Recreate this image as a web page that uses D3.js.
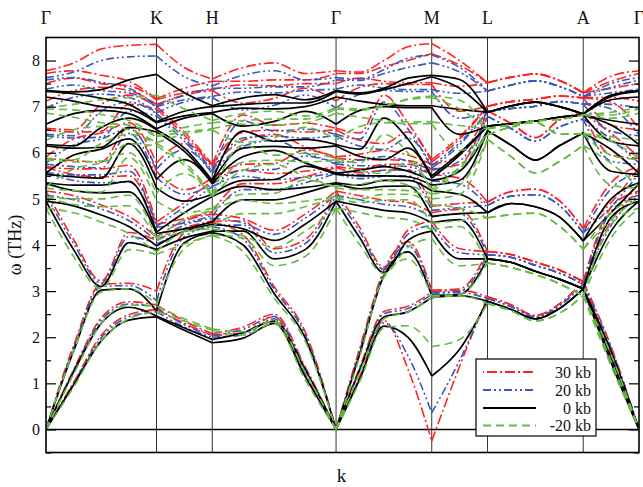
<!DOCTYPE html>
<html>
<head>
<meta charset="utf-8">
<script src="https://cdn.jsdelivr.net/npm/d3@7"></script>
<style>
  body { margin: 0; background: #fff; }
  svg text { font-family: "Liberation Serif", "Times New Roman", serif !important; fill: #111; }
</style>
</head>
<body>
<svg id="chart" width="643" height="487"></svg>
<script>
// High-symmetry path of the hexagonal Brillouin zone
const kLabels = ["Γ", "K", "H", "Γ", "M", "L", "A", "Γ"];
const kTicks = [0, 1.1547, 1.7377, 3.0312, 4.0312, 4.6142, 5.6142, 6.1972];
// k positions where the phonon frequencies are tabulated
const kSamples = [0, 0.2887, 0.5774, 0.8660, 1.1547, 1.4462, 1.7377, 2.0611, 2.3845, 2.7078,
  3.0312, 3.2812, 3.5312, 3.7812, 4.0312, 4.3227, 4.6142, 4.8642, 5.1142, 5.3642, 5.6142, 5.9057, 6.1972];
const yTickValues = [0, 1, 2, 3, 4, 5, 6, 7, 8];
const seriesNames = ["30 kb", "20 kb", "0 kb", "-20 kb"];

// Frequencies (THz): one row per k sample, 15 branches per row
const omega30kb = [
  [0,0,0,5.17,5.17,5.68,5.70,5.88,5.91,6.50,6.53,7.12,7.50,7.72,7.78],
  [1.02,1.30,1.82,4.12,5.07,5.53,5.65,5.83,6.30,6.45,6.50,7.35,7.62,7.78,7.95],
  [2.04,2.42,3.15,3.22,4.87,5.48,5.65,5.80,6.43,6.47,7.05,7.42,7.50,7.68,8.25],
  [2.49,2.77,3.17,4.27,4.62,5.50,5.73,6.55,6.65,7.05,7.25,7.35,7.45,7.55,8.33],
  [2.60,2.70,3.00,4.10,4.18,4.45,4.50,5.60,5.78,6.95,7.00,7.05,7.15,7.17,8.35],
  [2.30,2.35,4.27,4.37,4.52,4.57,4.92,5.20,6.20,6.38,6.45,7.25,7.30,7.40,7.85],
  [2.04,2.08,4.49,4.52,4.67,4.72,5.40,5.45,5.68,5.73,5.75,7.35,7.37,7.55,7.60],
  [2.10,2.22,4.22,4.52,4.57,5.33,5.62,5.75,6.27,6.45,6.82,7.08,7.47,7.55,7.85],
  [2.45,2.50,3.10,3.92,4.32,5.33,5.55,5.77,6.40,6.49,6.60,7.18,7.45,7.58,7.95],
  [1.20,1.36,2.12,4.12,4.67,5.48,5.60,6.06,6.13,6.45,6.64,7.40,7.50,7.58,7.72],
  [0,0,0,5.17,5.17,5.68,5.70,5.88,5.91,6.50,6.53,7.12,7.50,7.72,7.78],
  [1.16,1.36,1.78,4.37,5.07,5.57,5.65,5.85,5.97,6.27,6.43,7.42,7.62,7.72,7.75],
  [2.36,2.56,3.45,3.52,4.97,5.62,5.75,5.85,6.05,6.20,7.25,7.50,7.55,7.87,8.00],
  [1.32,2.67,4.07,4.32,4.92,5.63,5.75,5.83,5.95,6.45,6.65,7.48,7.52,8.00,8.30],
  [-0.25,2.98,3.02,4.52,4.70,4.84,5.52,5.65,5.75,5.80,5.85,7.48,7.52,8.15,8.37],
  [1.37,3.02,3.05,3.92,4.77,4.90,5.45,5.75,5.95,6.30,6.35,6.90,7.44,7.90,8.00],
  [2.88,2.88,3.86,3.86,3.86,4.93,4.93,6.91,6.91,7.01,7.01,7.01,7.52,7.52,7.52],
  [2.70,2.70,3.79,3.79,3.79,5.16,5.16,6.63,6.63,7.11,7.11,7.11,7.64,7.64,7.64],
  [2.47,2.47,3.63,3.63,3.63,5.21,5.21,6.33,6.33,7.16,7.16,7.16,7.71,7.71,7.71],
  [2.72,2.72,3.46,3.46,3.46,4.96,4.96,6.71,6.71,7.23,7.23,7.23,7.57,7.57,7.57],
  [3.21,3.21,3.21,3.21,3.21,4.36,4.36,6.86,6.86,7.19,7.19,7.19,7.30,7.30,7.30],
  [1.52,1.62,1.80,4.52,4.82,4.92,5.35,5.95,6.42,6.60,7.10,7.20,7.40,7.55,7.66],
  [0,0,0,5.17,5.17,5.68,5.70,5.88,5.91,6.50,6.53,7.12,7.50,7.72,7.78]
];

const omega20kb = [
  [0,0,0,5.08,5.08,5.55,5.57,5.75,5.78,6.37,6.40,6.97,7.38,7.58,7.63],
  [1.00,1.28,1.77,4.03,4.98,5.40,5.52,5.70,6.17,6.32,6.37,7.20,7.47,7.63,7.75],
  [1.99,2.37,3.10,3.17,4.78,5.35,5.52,5.67,6.30,6.34,6.90,7.27,7.35,7.53,8.00],
  [2.44,2.72,3.12,4.18,4.53,5.37,5.60,6.42,6.52,6.90,7.10,7.20,7.30,7.40,8.08],
  [2.55,2.65,2.80,4.02,4.10,4.38,4.40,5.47,5.65,6.80,6.85,6.87,7.00,7.02,8.10],
  [2.22,2.27,4.18,4.28,4.43,4.48,4.83,5.10,6.07,6.25,6.32,7.10,7.15,7.25,7.65],
  [2.00,2.04,4.40,4.43,4.58,4.63,5.27,5.32,5.55,5.60,5.62,7.20,7.22,7.40,7.45],
  [2.05,2.17,4.13,4.43,4.48,5.20,5.49,5.62,6.14,6.32,6.69,6.93,7.32,7.40,7.68],
  [2.40,2.45,3.04,3.83,4.23,5.20,5.42,5.64,6.27,6.36,6.47,7.03,7.30,7.43,7.78],
  [1.18,1.33,2.06,4.03,4.58,5.35,5.47,5.93,6.00,6.32,6.51,7.25,7.35,7.43,7.58],
  [0,0,0,5.08,5.08,5.55,5.57,5.75,5.78,6.37,6.40,6.97,7.38,7.58,7.63],
  [1.13,1.33,1.72,4.28,4.98,5.44,5.52,5.72,5.84,6.14,6.30,7.27,7.47,7.57,7.60],
  [2.31,2.51,3.40,3.47,4.88,5.49,5.62,5.72,5.92,6.07,7.10,7.35,7.40,7.72,7.80],
  [1.60,2.62,3.98,4.23,4.83,5.50,5.62,5.70,5.82,6.32,6.52,7.33,7.37,7.85,8.05],
  [0.36,2.93,2.97,4.43,4.61,4.75,5.39,5.52,5.62,5.67,5.72,7.33,7.37,7.95,8.12],
  [1.50,2.97,3.00,3.83,4.68,4.81,5.32,5.62,5.82,6.17,6.22,6.75,7.29,7.75,7.85],
  [2.84,2.84,3.79,3.79,3.79,4.86,4.86,6.79,6.79,6.89,6.89,6.89,7.34,7.34,7.34],
  [2.66,2.66,3.73,3.73,3.73,5.06,5.06,6.52,6.52,6.96,6.96,6.96,7.47,7.47,7.47],
  [2.44,2.44,3.56,3.56,3.56,5.09,5.09,6.25,6.25,7.01,7.01,7.01,7.56,7.56,7.56],
  [2.68,2.68,3.39,3.39,3.39,4.86,4.86,6.56,6.56,7.11,7.11,7.11,7.44,7.44,7.44],
  [3.15,3.15,3.15,3.15,3.15,4.26,4.26,6.73,6.73,7.06,7.06,7.06,7.22,7.22,7.22],
  [1.49,1.59,1.76,4.43,4.73,4.83,5.22,5.82,6.29,6.47,6.95,7.05,7.30,7.42,7.50],
  [0,0,0,5.08,5.08,5.55,5.57,5.75,5.78,6.37,6.40,6.97,7.38,7.58,7.63]
];

const omega0kb = [
  [0,0,0,4.95,4.95,5.33,5.35,5.53,5.56,6.15,6.18,6.62,7.21,7.33,7.35],
  [0.97,1.25,1.70,3.90,4.85,5.18,5.30,5.48,5.95,6.10,6.15,6.85,7.12,7.28,7.32],
  [1.92,2.30,3.02,3.10,4.65,5.13,5.30,5.45,6.08,6.12,6.55,6.92,7.00,7.18,7.37],
  [2.37,2.65,3.05,4.05,4.40,5.15,5.38,6.20,6.30,6.55,6.75,6.85,6.95,7.05,7.58],
  [2.44,2.46,2.57,3.90,3.98,4.25,4.28,5.24,5.42,6.45,6.50,6.52,6.65,6.67,7.70],
  [2.15,2.20,4.05,4.15,4.30,4.35,4.70,4.95,5.85,6.03,6.10,6.75,6.80,6.90,7.30],
  [1.88,1.95,4.27,4.30,4.45,4.50,5.05,5.10,5.33,5.38,5.40,6.85,6.87,7.00,7.02],
  [1.98,2.10,4.00,4.30,4.35,4.98,5.27,5.40,5.92,6.10,6.47,6.58,6.97,7.05,7.19],
  [2.30,2.35,2.95,3.70,4.10,4.98,5.20,5.42,6.05,6.14,6.25,6.68,6.95,7.08,7.26],
  [1.15,1.30,1.99,3.90,4.45,5.13,5.25,5.71,5.78,6.10,6.29,6.90,7.00,7.08,7.15],
  [0,0,0,4.95,4.95,5.33,5.35,5.53,5.56,6.15,6.18,6.62,7.21,7.33,7.35],
  [1.10,1.30,1.65,4.15,4.85,5.22,5.30,5.50,5.62,5.92,6.08,6.92,7.12,7.27,7.30],
  [2.24,2.44,3.33,3.40,4.75,5.27,5.40,5.50,5.70,5.85,6.75,7.00,7.05,7.37,7.40],
  [2.00,2.55,3.85,4.10,4.70,5.28,5.40,5.48,5.60,6.10,6.30,6.98,7.02,7.50,7.62],
  [1.16,2.86,2.90,4.30,4.48,4.62,5.17,5.30,5.40,5.45,5.50,6.98,7.02,7.65,7.68],
  [1.74,2.90,2.93,3.70,4.55,4.68,5.10,5.40,5.60,5.95,6.00,6.40,6.94,7.40,7.59],
  [2.78,2.78,3.70,3.70,3.70,4.70,4.70,6.48,6.48,6.58,6.58,6.58,6.88,6.88,6.88],
  [2.60,2.60,3.62,3.62,3.62,4.90,4.90,6.16,6.16,6.63,6.63,6.63,7.02,7.02,7.02],
  [2.40,2.40,3.43,3.43,3.43,4.83,4.83,5.84,5.84,6.69,6.69,6.69,7.10,7.10,7.10],
  [2.62,2.62,3.26,3.26,3.26,4.61,4.61,6.15,6.15,6.77,6.77,6.77,7.00,7.00,7.00],
  [3.05,3.05,3.05,3.05,3.05,4.09,4.09,6.43,6.43,6.82,6.82,6.82,6.84,6.84,6.84],
  [1.45,1.55,1.70,4.30,4.60,4.70,5.00,5.60,6.07,6.25,6.60,6.70,7.15,7.22,7.25],
  [0,0,0,4.95,4.95,5.33,5.35,5.53,5.56,6.15,6.18,6.62,7.21,7.33,7.35]
];

const omegaMinus20kb = [
  [0,0,0,4.80,4.80,5.03,5.05,5.23,5.26,5.85,5.88,6.27,6.86,6.95,6.98],
  [0.92,1.20,1.70,3.75,4.70,4.88,5.00,5.18,5.65,5.80,5.85,6.50,6.77,6.93,7.05],
  [1.92,2.30,2.98,3.05,4.50,4.83,5.00,5.15,5.78,5.82,6.20,6.57,6.65,6.83,7.15],
  [2.40,2.70,3.05,3.90,4.25,4.85,5.08,5.90,6.00,6.20,6.40,6.50,6.60,6.70,7.20],
  [2.55,2.68,2.72,3.80,3.85,4.10,4.15,4.95,5.12,6.15,6.20,6.22,6.35,6.37,7.25],
  [2.35,2.40,3.92,4.02,4.28,4.30,4.55,4.70,5.55,5.73,5.80,6.40,6.45,6.55,6.95],
  [2.15,2.18,4.20,4.22,4.35,4.40,4.75,4.80,5.05,5.08,5.10,6.50,6.52,6.65,6.70],
  [2.05,2.12,3.85,4.15,4.20,4.68,4.97,5.10,5.62,5.80,6.17,6.23,6.62,6.70,6.85],
  [2.30,2.35,2.85,3.55,3.95,4.68,4.90,5.12,5.75,5.84,5.95,6.33,6.60,6.73,6.90],
  [1.08,1.25,1.92,3.75,4.30,4.83,4.95,5.41,5.48,5.80,5.99,6.55,6.65,6.73,6.80],
  [0,0,0,4.80,4.80,5.03,5.05,5.23,5.26,5.85,5.88,6.27,6.86,6.95,6.98],
  [1.05,1.25,1.60,4.00,4.70,4.92,5.00,5.20,5.32,5.62,5.78,6.57,6.77,6.92,6.95],
  [2.20,2.40,3.30,3.38,4.60,4.97,5.10,5.20,5.40,5.55,6.40,6.65,6.70,7.02,7.00],
  [2.25,2.55,3.70,3.95,4.55,4.98,5.10,5.18,5.30,5.80,6.00,6.63,6.67,7.15,7.17],
  [1.80,2.86,2.90,4.15,4.33,4.47,4.87,5.00,5.10,5.15,5.20,6.63,6.67,7.20,7.23],
  [1.95,2.90,2.93,3.55,4.40,4.53,4.80,5.10,5.30,5.65,5.70,6.05,6.59,6.95,7.14],
  [2.73,2.73,3.61,3.61,3.61,4.59,4.59,6.29,6.29,6.39,6.39,6.39,6.52,6.52,6.52],
  [2.57,2.57,3.51,3.51,3.51,4.66,4.66,5.91,5.91,6.56,6.56,6.56,6.61,6.61,6.61],
  [2.35,2.35,3.36,3.36,3.36,4.69,4.69,5.56,5.56,6.66,6.66,6.66,6.69,6.69,6.69],
  [2.52,2.52,3.16,3.16,3.16,4.41,4.41,5.81,5.81,6.41,6.41,6.41,6.72,6.72,6.72],
  [2.90,2.90,2.90,2.90,2.90,3.91,3.91,6.16,6.16,6.41,6.41,6.41,6.82,6.82,6.82],
  [1.38,1.48,1.62,4.15,4.45,4.55,4.70,5.30,5.77,5.95,6.25,6.35,6.75,6.82,6.88],
  [0,0,0,4.80,4.80,5.03,5.05,5.23,5.26,5.85,5.88,6.27,6.86,6.95,6.98]
];

const seriesData = [omega30kb, omega20kb, omega0kb, omegaMinus20kb];
const seriesStyle = [
  { color: "#ff2323", dash: "10,3,2,3", width: 1.6 },
  { color: "#3a58b8", dash: "8,3,2,3,2,3", width: 1.6 },
  { color: "#000000", dash: null, width: 1.7 },
  { color: "#66bb44", dash: "8,5", width: 1.6 }
];

const SERIF = "'Liberation Serif', 'Times New Roman', serif";
const plot = { left: 46, right: 639, top: 37.5, bottom: 452.5 };

const x = d3.scaleLinear().domain([kTicks[0], kTicks[kTicks.length - 1]]).range([plot.left, plot.right]);
const y = d3.scaleLinear().domain([-0.5, 8.5]).range([plot.bottom, plot.top]);

const svg = d3.select("#chart");

svg.append("defs").append("clipPath").attr("id", "plotClip")
  .append("rect")
  .attr("x", plot.left).attr("y", plot.top)
  .attr("width", plot.right - plot.left).attr("height", plot.bottom - plot.top);

// Segment boundaries on the sample grid (one per high-symmetry point)
const tickIdx = kTicks.map(t => d3.minIndex(kSamples, s => Math.abs(s - t)));
const segments = d3.pairs(tickIdx);

// High-symmetry vertical lines
svg.append("g").selectAll("line")
  .data(kTicks.slice(1, -1))
  .join("line")
  .attr("x1", d => x(d)).attr("x2", d => x(d))
  .attr("y1", plot.top).attr("y2", plot.bottom)
  .attr("stroke", "#333").attr("stroke-width", 1);

// Zero-frequency line
svg.append("line")
  .attr("x1", plot.left).attr("x2", plot.right)
  .attr("y1", y(0)).attr("y2", y(0))
  .attr("stroke", "#000").attr("stroke-width", 1.4);

// Phonon branches, drawn segment by segment so the Γ points stay sharp
const line = d3.line()
  .x(d => x(d[0]))
  .y(d => y(d[1]))
  .curve(d3.curveMonotoneX);

const bandsLayer = svg.append("g").attr("clip-path", "url(#plotClip)");
seriesData.forEach((rows, si) => {
  const nb = rows[0].length;
  const st = seriesStyle[si];
  const g = bandsLayer.append("g")
    .attr("fill", "none")
    .attr("stroke", st.color)
    .attr("stroke-width", st.width)
    .attr("stroke-linejoin", "round");
  if (st.dash) g.attr("stroke-dasharray", st.dash);
  for (let b = 0; b < nb; b++) {
    segments.forEach(([i0, i1]) => {
      const pts = d3.range(i0, i1 + 1).map(i => [kSamples[i], rows[i][b]]);
      g.append("path").attr("d", line(pts));
    });
  }
});

// Frame
svg.append("rect")
  .attr("x", plot.left).attr("y", plot.top)
  .attr("width", plot.right - plot.left).attr("height", plot.bottom - plot.top)
  .attr("fill", "none").attr("stroke", "#000").attr("stroke-width", 1.6);

// Inward ticks on both sides; labels on the left only
const halfTicks = d3.range(-0.5, 8.5, 1);
const leftMajor = d3.axisLeft(y).tickValues(yTickValues).tickSize(-10).tickPadding(6).tickFormat(d3.format("d"));
const leftMinor = d3.axisLeft(y).tickValues(halfTicks).tickSize(-5).tickFormat("");
const rightMajor = d3.axisRight(y).tickValues(yTickValues).tickSize(-10).tickFormat("");
const rightMinor = d3.axisRight(y).tickValues(halfTicks).tickSize(-5).tickFormat("");

function styleAxis(g) {
  g.attr("font-family", null);
  g.select(".domain").remove();
  g.selectAll(".tick line").attr("stroke", "#000").attr("stroke-width", 1.2);
  g.selectAll(".tick text").attr("font-size", 16).attr("fill", "#111")
    .style("font-family", SERIF);
}
svg.append("g").attr("transform", `translate(${plot.left},0)`).call(leftMajor).call(styleAxis);
svg.append("g").attr("transform", `translate(${plot.left},0)`).call(leftMinor).call(styleAxis);
svg.append("g").attr("transform", `translate(${plot.right},0)`).call(rightMajor).call(styleAxis);
svg.append("g").attr("transform", `translate(${plot.right},0)`).call(rightMinor).call(styleAxis);

// High-symmetry labels along the top
svg.append("g").selectAll("text")
  .data(kLabels)
  .join("text")
  .attr("x", (d, i) => x(kTicks[i]))
  .attr("y", 24)
  .attr("text-anchor", "middle")
  .attr("font-size", 18)
  .style("font-family", SERIF)
  .text(d => d);

// Axis titles
svg.append("text")
  .attr("transform", `translate(21,${(plot.top + plot.bottom) / 2}) rotate(-90)`)
  .attr("text-anchor", "middle")
  .attr("font-size", 18)
  .style("font-family", SERIF)
  .text("ω (THz)");
svg.append("text")
  .attr("x", (plot.left + plot.right) / 2 - 1)
  .attr("y", 482)
  .attr("text-anchor", "middle")
  .attr("font-size", 19)
  .style("font-family", SERIF)
  .text("k");

// Legend
const legend = svg.append("g");
legend.append("rect")
  .attr("x", 476).attr("y", 359).attr("width", 120).attr("height", 77)
  .attr("fill", "#fff").attr("stroke", "#000").attr("stroke-width", 1.2);
const legendRows = [372, 390, 408, 425.5];
seriesNames.forEach((name, i) => {
  const st = seriesStyle[i];
  const ln = legend.append("line")
    .attr("x1", 483).attr("x2", 536)
    .attr("y1", legendRows[i]).attr("y2", legendRows[i])
    .attr("stroke", st.color).attr("stroke-width", st.width + 0.2);
  if (st.dash) ln.attr("stroke-dasharray", st.dash).attr("stroke-dashoffset", i === 0 ? 14 : 0);
  legend.append("text")
    .attr("x", 591).attr("y", legendRows[i] + 5.5)
    .attr("text-anchor", "end")
    .attr("font-size", 16)
    .style("font-family", SERIF)
    .text(name);
});
</script>
</body>
</html>
